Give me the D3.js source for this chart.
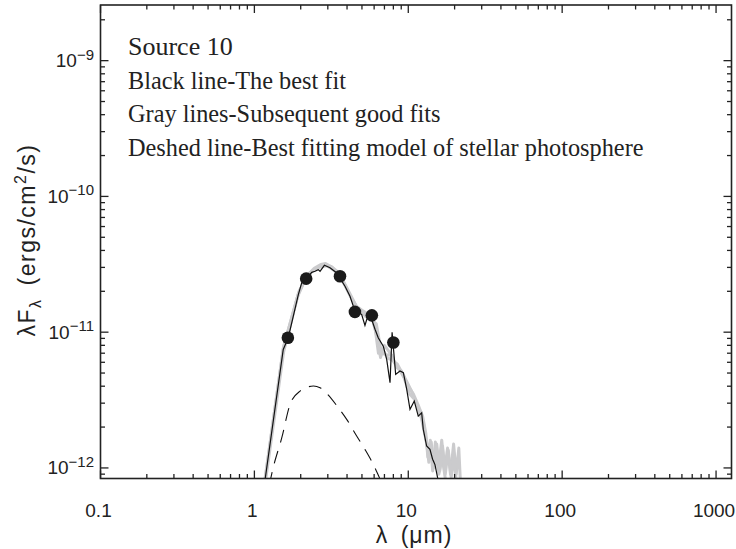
<!DOCTYPE html>
<html>
<head>
<meta charset="utf-8">
<script src="https://cdnjs.cloudflare.com/ajax/libs/d3/7.8.5/d3.min.js"></script>
<style>
	body { margin: 0; background: #fff; }
	svg { display: block; }
	.tick-label { font-family: "Liberation Sans", Arial, sans-serif; font-size: 19px; fill: #222; }
	.note { font-family: "Liberation Serif", "Times New Roman", serif; fill: #222; }
</style>
</head>
<body>
<div id="chart"></div>
<script>

// photometry: wavelength (micron), lambda*F_lambda (ergs/cm^2/s)
var obsWave = [1.65, 2.17, 3.6, 4.5, 5.8, 8.0];
var obsFlux = [9.1e-12, 2.48e-11, 2.58e-11, 1.41e-11, 1.33e-11, 8.4e-12];

// best fit (black)
var bestWave = [1.17, 1.54, 1.66, 1.93, 2.03, 2.17, 2.36, 2.48, 2.60, 2.67, 2.85, 3.10, 3.43, 3.88, 4.18, 4.40, 4.71, 4.98, 5.23, 5.37, 5.64, 6.08, 6.38, 6.88, 7.24, 7.61, 7.85, 8.28, 8.83, 9.29, 9.77, 10.26, 10.94, 11.61, 12.22, 12.51, 13.16, 13.83, 14.39, 14.9, 15.67];
var bestFlux = [8.0e-13, 7.46e-12, 9.1e-12, 1.89e-11, 2.31e-11, 2.48e-11, 2.76e-11, 2.81e-11, 2.89e-11, 2.81e-11, 3.11e-11, 2.98e-11, 2.73e-11, 2.18e-11, 1.84e-11, 1.55e-11, 1.42e-11, 1.35e-11, 1.12e-11, 1.24e-11, 1.35e-11, 1.05e-11, 9.1e-12, 7.89e-12, 6.3e-12, 4.25e-12, 1.0e-11, 4.89e-12, 5.17e-12, 5.03e-12, 3.79e-12, 2.70e-12, 3.11e-12, 2.41e-12, 2.55e-12, 1.93e-12, 1.45e-12, 1.37e-12, 1.16e-12, 1.06e-12, 8.0e-13];

// subsequent good fits (gray)
var gray1Wave = [1.17, 1.54, 1.93, 2.2, 2.45, 2.7, 2.9, 3.2, 3.5, 3.9, 4.3, 4.7, 5.1, 5.5, 5.9, 6.3, 6.6, 7.0, 7.5, 8.1, 8.7, 9.4, 10.2, 11.0, 11.8, 12.6, 13.2, 13.6, 14.1, 14.6, 15.3, 16.0, 16.7, 17.4, 18.2, 19.0, 19.8, 20.5];
var gray1Flux = [8.0e-13, 7.6e-12, 1.92e-11, 2.6e-11, 2.95e-11, 3.15e-11, 3.2e-11, 3.0e-11, 2.7e-11, 2.2e-11, 1.75e-11, 1.5e-11, 1.4e-11, 1.3e-11, 1.2e-11, 9.0e-12, 6.5e-12, 8.0e-12, 7.2e-12, 6.0e-12, 5.4e-12, 4.6e-12, 3.5e-12, 3.2e-12, 2.6e-12, 2.1e-12, 1.5e-12, 1.1e-12, 1.55e-12, 1.0e-12, 1.5e-12, 9.5e-13, 1.45e-12, 9.0e-13, 1.35e-12, 8.5e-13, 1.2e-12, 8.0e-13];

var gray2Wave = [1.17, 1.55, 1.95, 2.25, 2.55, 2.85, 3.15, 3.45, 3.8, 4.2, 4.6, 5.0, 5.4, 5.8, 6.1, 6.4, 6.8, 7.3, 7.9, 8.5, 9.2, 10.0, 10.8, 11.6, 12.4, 13.0, 13.4, 13.9, 14.4, 15.0, 15.7, 16.5, 17.2, 18.0, 18.8, 19.7, 20.5, 21.3, 21.8];
var gray2Flux = [8.2e-13, 7.9e-12, 2.0e-11, 2.7e-11, 3.0e-11, 3.1e-11, 3.05e-11, 2.8e-11, 2.35e-11, 1.9e-11, 1.55e-11, 1.45e-11, 1.38e-11, 1.3e-11, 1.05e-11, 7.0e-12, 7.5e-12, 6.5e-12, 6.2e-12, 5.8e-12, 4.9e-12, 4.0e-12, 3.5e-12, 2.9e-12, 2.4e-12, 1.8e-12, 1.2e-12, 1.6e-12, 9.5e-13, 1.55e-12, 1.0e-12, 1.6e-12, 9.5e-13, 1.4e-12, 9.0e-13, 1.5e-12, 9.0e-13, 1.4e-12, 8.0e-13];

var gray3Wave = [1.18, 1.55, 1.9, 2.1, 2.4, 2.65, 2.95, 3.3, 3.7, 4.1, 4.5, 4.9, 5.3, 5.7, 6.2, 6.7, 7.2, 7.8, 8.4, 9.0, 9.8, 10.6, 11.4, 12.2, 12.9, 13.5, 14.0, 14.5, 15.1, 15.8, 16.6, 17.5];
var gray3Flux = [8.0e-13, 7.2e-12, 1.8e-11, 2.35e-11, 2.85e-11, 3.0e-11, 3.1e-11, 2.85e-11, 2.45e-11, 1.95e-11, 1.6e-11, 1.42e-11, 1.3e-11, 1.25e-11, 1.15e-11, 7.0e-12, 6.8e-12, 6.8e-12, 5.5e-12, 5.2e-12, 4.3e-12, 3.6e-12, 2.9e-12, 2.3e-12, 1.7e-12, 1.3e-12, 1.5e-12, 1.05e-12, 1.3e-12, 9.0e-13, 1.2e-12, 8.0e-13];

// stellar photosphere (dashed)
var starWave = [1.25, 1.317, 1.507, 1.706, 1.98, 2.42, 2.67, 2.95, 3.51, 3.98, 4.62, 5.23, 5.93, 6.55];
var starFlux = [7.5e-13, 9.78e-13, 1.67e-12, 2.94e-12, 3.68e-12, 4.01e-12, 3.90e-12, 3.54e-12, 2.78e-12, 2.28e-12, 1.72e-12, 1.37e-12, 1.06e-12, 8.3e-13];

var xTickLabels = ['0.1', '1', '10', '100', '1000'];
var yTickExps = [-12, -11, -10, -9];

var notes = ['Source 10', 'Black line-The best fit', 'Gray lines-Subsequent good fits', 'Deshed line-Best fitting model of stellar photosphere'];

var chart = {
	container: '#chart',
	width: 736,
	height: 549,
	left: 100.5,
	right: 731.5,
	top: 5,
	bottom: 478.5
};

function zip(w, f) {
	return w.map(function (d, i) { return [d, f[i]]; });
}

function createChart() {

	svg = d3.select(chart.container)
		.append('svg')
		.attr('width', chart.width)
		.attr('height', chart.height);

	xScale = d3.scaleLog()
		.domain([0.1, 1260])
		.range([chart.left, chart.right]);

	yScale = d3.scaleLog()
		.domain([8.36e-13, 2.57e-9])
		.range([chart.bottom, chart.top]);

	svg.append('clipPath')
		.attr('id', 'plot-clip')
		.append('rect')
		.attr('x', chart.left)
		.attr('y', chart.top)
		.attr('width', chart.right - chart.left)
		.attr('height', chart.bottom - chart.top);

	var line = d3.line()
		.x(function (d) { return xScale(d[0]); })
		.y(function (d) { return yScale(d[1]); });

	var plot = svg.append('g').attr('clip-path', 'url(#plot-clip)');

	[zip(gray3Wave, gray3Flux), zip(gray2Wave, gray2Flux), zip(gray1Wave, gray1Flux)].forEach(function (s) {
		plot.append('path')
			.datum(s)
			.attr('fill', 'none')
			.attr('stroke', '#cbcbcd')
			.attr('stroke-width', 3)
			.attr('stroke-linejoin', 'round')
			.attr('d', line);
	});

	plot.append('path')
		.datum(zip(bestWave, bestFlux))
		.attr('fill', 'none')
		.attr('stroke', '#111')
		.attr('stroke-width', 1.2)
		.attr('d', line);

	plot.append('path')
		.datum(zip(starWave, starFlux))
		.attr('fill', 'none')
		.attr('stroke', '#111')
		.attr('stroke-width', 1.1)
		.attr('stroke-dasharray', '13,9')
		.attr('d', d3.line().curve(d3.curveMonotoneX)
			.x(function (d) { return xScale(d[0]); })
			.y(function (d) { return yScale(d[1]); }));

	plot.selectAll('.obs')
		.data(zip(obsWave, obsFlux))
		.enter().append('circle')
		.attr('class', 'obs')
		.attr('cx', function (d) { return xScale(d[0]); })
		.attr('cy', function (d) { return yScale(d[1]); })
		.attr('r', 6.3)
		.attr('fill', '#1a1a1a');

	// frame
	svg.append('rect')
		.attr('x', chart.left)
		.attr('y', chart.top)
		.attr('width', chart.right - chart.left)
		.attr('height', chart.bottom - chart.top)
		.attr('fill', 'none')
		.style('stroke', '#222')
		.attr('stroke-width', 1.6);

	var ticks = svg.append('g').attr('stroke', '#222').attr('stroke-width', 1.3);

	xScale.ticks().forEach(function (t) {
		var major = Math.abs(Math.log10(t) - Math.round(Math.log10(t))) < 1e-6;
		var len = major ? 8 : 4.5;
		var x = xScale(t);
		ticks.append('line').attr('x1', x).attr('x2', x).attr('y1', chart.bottom).attr('y2', chart.bottom - len);
		ticks.append('line').attr('x1', x).attr('x2', x).attr('y1', chart.top).attr('y2', chart.top + len);
	});

	yScale.ticks().forEach(function (t) {
		var major = Math.abs(Math.log10(t) - Math.round(Math.log10(t))) < 1e-6;
		var len = major ? 8 : 4.5;
		var y = yScale(t);
		ticks.append('line').attr('x1', chart.left).attr('x2', chart.left + len).attr('y1', y).attr('y2', y);
		ticks.append('line').attr('x1', chart.right).attr('x2', chart.right - len).attr('y1', y).attr('y2', y);
	});

	// x tick labels
	svg.selectAll('.xlab')
		.data(xTickLabels)
		.enter().append('text')
		.attr('class', 'tick-label')
		.attr('x', function (d) { return xScale(+d) - 2; })
		.attr('y', 517)
		.attr('text-anchor', 'middle')
		.text(function (d) { return d; });

	// y tick labels 10^n
	yTickExps.forEach(function (e) {
		var t = svg.append('text')
			.attr('class', 'tick-label')
			.attr('x', 94)
			.attr('y', yScale(Math.pow(10, e)) + 6.5)
			.attr('text-anchor', 'end');
		t.append('tspan').text('10');
		t.append('tspan').attr('dy', -7.5).style('font-size', '15px').text('\u2212' + Math.abs(e));
	});

	// axis titles
	svg.append('text')
		.attr('class', 'tick-label')
		.attr('x', (chart.left + chart.right) / 2 - 2)
		.attr('y', 543)
		.attr('text-anchor', 'middle')
		.style('font-size', '23px')
		.style('letter-spacing', '1px')
		.text('\u03bb\u2002(\u03bcm)');

	var yt = svg.append('text')
		.attr('class', 'tick-label')
		.attr('transform', 'translate(35,240) rotate(-90)')
		.attr('text-anchor', 'middle')
		.style('font-size', '23px')
		.style('letter-spacing', '1.5px');
	yt.append('tspan').text('\u03bbF');
	yt.append('tspan').attr('dy', 6).style('font-size', '16px').text('\u03bb');
	yt.append('tspan').attr('dy', -6).text('\u2002(ergs/cm');
	yt.append('tspan').attr('dy', -9).style('font-size', '16px').text('2');
	yt.append('tspan').attr('dy', 9).text('/s)');

	// annotation block
	svg.selectAll('.note')
		.data(notes)
		.enter().append('text')
		.attr('class', 'note')
		.attr('x', 128)
		.attr('y', function (d, i) { return 55 + i * 33.7; })
		.style('font-size', function (d, i) { return i === 0 ? '26px' : '24.3px'; })
		.text(function (d) { return d; });
}

createChart();

</script>
</body>
</html>
